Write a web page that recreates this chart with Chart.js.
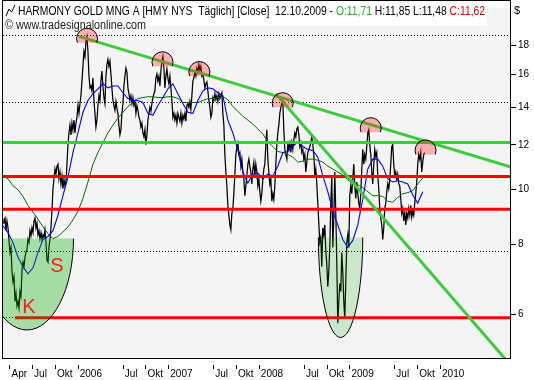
<!DOCTYPE html>
<html><head><meta charset="utf-8">
<style>html,body{margin:0;padding:0;background:#fff;}canvas{display:block;}</style>
<script src="https://cdn.jsdelivr.net/npm/chart.js@4.4.1/dist/chart.umd.min.js"></script>
</head><body>
<canvas id="c" width="534" height="380"></canvas>
<script>
// ---------- data ----------
const firstSample = 2005.175;   // decimal year of first close sample
const sampleDays = 4.03;        // spacing of close samples, days
const closes = [
8.72,8.83,8.90,8.45,8.79,8.55,8.12,7.73,7.89,7.14,
6.86,7.00,6.33,6.54,6.21,6.33,6.16,6.59,6.46,7.20,
7.43,7.29,7.58,7.73,7.83,8.15,8.05,8.45,8.28,8.55,
8.38,8.79,8.90,8.55,8.72,8.31,8.45,8.18,8.38,8.15,
8.31,8.22,8.48,8.05,7.49,7.43,7.89,8.15,8.55,9.18,
10.03,10.44,10.87,10.65,11.00,11.09,10.44,10.74,10.23,10.57,
10.03,10.44,10.15,10.31,11.09,12.01,12.60,13.01,12.50,13.12,
12.76,13.28,12.60,13.12,13.43,14.10,13.65,14.21,14.67,15.59,
16.55,17.58,17.22,18.30,18.66,17.58,15.90,15.15,15.27,14.97,
15.77,14.39,13.65,12.91,13.28,14.10,14.67,14.39,15.59,16.23,
15.27,14.56,14.21,15.90,16.68,17.02,16.55,16.89,16.03,15.15,
14.39,14.10,13.82,14.33,13.93,13.65,13.01,12.50,12.76,13.65,
14.21,15.27,15.90,16.42,16.16,15.15,14.79,14.39,14.67,14.21,
14.56,14.10,14.33,13.65,14.10,13.82,13.43,13.28,12.91,13.12,
12.60,12.40,12.76,12.01,12.50,13.28,13.65,13.99,13.76,14.21,
14.56,14.79,14.97,15.77,16.03,15.59,15.90,15.27,16.23,16.89,
17.22,16.42,15.15,15.90,16.36,15.77,15.40,15.90,15.15,14.39,
13.43,13.65,13.28,13.54,13.12,13.65,13.43,13.22,13.65,13.12,
13.54,13.33,13.65,13.22,14.10,14.21,13.99,14.33,13.88,14.67,
15.59,15.77,16.16,15.90,16.42,16.16,16.68,16.29,16.55,15.90,
16.03,15.65,15.15,15.40,15.52,14.97,14.39,13.99,13.43,13.65,
14.56,14.39,14.79,14.44,14.67,14.33,14.79,14.50,14.67,14.85,
13.65,13.01,11.54,10.74,10.15,9.37,9.00,8.65,8.48,9.07,
9.26,9.83,10.65,11.54,11.92,12.11,11.54,11.63,11.00,11.32,
10.74,10.44,9.75,10.15,10.57,11.09,11.32,11.00,10.74,10.23,
10.87,11.18,10.57,11.09,10.74,10.15,10.44,9.91,9.53,9.83,
10.44,10.87,11.09,12.01,12.76,11.32,10.74,10.23,10.44,9.53,
9.83,9.60,10.15,11.09,12.01,12.60,13.01,13.65,13.99,14.21,
14.33,12.76,11.78,11.54,11.32,12.01,11.78,12.21,11.63,12.11,
11.78,12.26,12.60,12.40,12.81,12.91,12.50,11.92,12.11,11.63,
11.78,11.32,11.54,10.74,11.18,11.63,11.78,11.92,12.11,12.40,
12.01,11.54,10.57,10.87,10.23,9.45,8.72,8.05,8.22,7.29,
8.55,8.31,8.65,7.79,7.37,6.72,7.14,7.89,9.45,10.57,
7.89,8.90,10.74,9.07,7.43,5.79,6.33,6.81,6.59,7.73,
7.14,6.33,5.89,6.86,8.05,8.31,7.89,9.75,10.15,9.83,
10.44,11.09,10.15,9.64,10.31,9.83,9.45,9.26,9.83,10.87,
11.78,11.09,11.54,11.32,11.92,12.60,12.76,12.01,11.54,10.74,
10.23,11.09,11.78,11.45,11.63,10.57,10.03,9.26,8.90,8.65,
8.15,8.55,9.26,9.45,9.91,10.23,10.03,10.40,11.09,11.92,
12.01,11.09,10.57,10.74,10.44,10.65,10.23,10.15,9.64,9.07,
9.26,8.79,9.15,8.65,9.07,8.90,9.26,9.00,9.37,8.93,
9.15,9.00,9.45,9.83,10.31,11.09,11.54,11.32,11.63,10.74,
11.18,11.54,11.62
];
const maEvery = 5; // moving averages read every 5th close sample
const fastMA = [
8.62,8.38,8.05,7.58,7.29,7.08,7.26,7.73,8.15,8.25,
8.45,9.00,9.75,10.52,11.63,12.60,13.71,14.39,14.79,15.09,
15.40,15.15,15.27,15.27,14.85,14.50,14.39,14.39,14.27,13.65,
13.54,14.10,14.56,15.09,15.40,14.79,14.21,13.71,13.65,14.39,
14.97,15.15,15.09,14.85,14.67,13.28,12.60,11.73,10.74,10.27,
10.65,10.69,10.44,10.65,10.57,11.00,11.63,11.68,11.92,12.16,
11.92,11.78,11.73,11.41,10.57,9.91,9.15,8.65,8.15,7.89,
8.12,8.65,9.60,10.87,11.32,11.32,11.00,10.44,10.31,10.36,
10.31,10.23,9.79,9.45,9.91
];
const slowMA = [
10.57,10.44,10.15,9.99,9.72,9.37,9.11,8.86,8.58,8.35,
8.18,8.25,8.41,8.58,8.83,9.15,9.64,10.31,11.09,11.63,
12.11,12.60,13.01,13.38,13.71,14.04,14.27,14.50,14.56,14.61,
14.61,14.56,14.56,14.61,14.61,14.50,14.27,14.27,14.27,14.27,
14.39,14.50,14.50,14.56,14.61,14.44,14.04,13.76,13.49,13.28,
13.06,12.81,12.55,12.16,11.92,11.68,11.63,11.54,11.41,11.18,
11.23,11.32,11.32,11.27,11.18,11.00,10.87,10.74,10.61,10.40,
10.27,10.19,10.07,9.91,9.75,9.75,9.72,9.53,9.49,9.68,
9.83,9.87,9.95,10.23,10.48
];
const xTickPos = [2005.2466,2005.4959,2005.7479,2006,2006.4959,2006.7479,2007,2007.4959,2007.7479,2008,2008.4973,2008.7486,2009,2009.4959,2009.7479,2010];
const xTickLabels = ["Apr","Jul","Okt","2006","Jul","Okt","2007","Jul","Okt","2008","Jul","Okt","2009","Jul","Okt","2010"];
const yTickValues = [6,8,10,12,14,16,18];
const gridLevels = [18.83,14.32,7.79,5.94];
const redLevels = [10.54,9.22,5.92];
const redStarts = [null,null,2005.308];
const greenLevels = [12.12];
const trendA = [[2006.014,18.70],[2010.7836,10.96]];
const trendB = [[2008.189,14.79],[2010.72,5.0]];
const peakX = [2006.103,2006.936,2007.343,2008.263,2009.235,2009.840];
const peakBase = [18.22,16.55,15.90,14.00,12.64,11.54];
const zoneX = [2005.440,2008.902];
const zoneHalfWidth = [0.5134,0.2451];
const zoneTop = [8.18,8.22];
const zoneBottom = [5.63,5.46];
const letterText = ["K","S"];
const letterX = [2005.462,2005.7715];
const letterY = [6.18,7.29];

// ---------- chart ----------
const X_MIN = 2005.175, X_MAX = 2010.7836;
const stepYears = sampleDays/365.25;
const closePts = closes.map((v,i)=>({x:firstSample+i*stepYears,y:v}));
const fastPts = fastMA.map((v,k)=>({x:firstSample+k*maEvery*stepYears,y:v}));
const slowPts = slowMA.map((v,k)=>({x:firstSample+k*maEvery*stepYears,y:v}));
const FONT = '"Liberation Sans", Arial, sans-serif';

const datasets = [];
datasets.push({data:closePts,borderColor:'#000',borderWidth:1.25,order:50});
datasets.push({data:slowPts,borderColor:'#006e00',borderWidth:1,order:45});
datasets.push({data:fastPts,borderColor:'#0000ff',borderWidth:1.1,order:40});
redLevels.forEach((v,i)=>datasets.push({data:[{x:redStarts[i]??X_MIN,y:v},{x:X_MAX,y:v}],borderColor:'#ff0000',borderWidth:3,order:20}));
greenLevels.forEach(v=>datasets.push({data:[{x:X_MIN,y:v},{x:X_MAX,y:v}],borderColor:'#3ccc3c',borderWidth:3,order:20}));
[trendA,trendB].forEach(t=>datasets.push({data:t.map(p=>({x:p[0],y:p[1]})),borderColor:'#3ccc3c',borderWidth:3,order:10}));
datasets.forEach(d=>{d.pointRadius=0;d.tension=0;d.fill=false;});

const deco = {
  id:'deco',
  beforeDraw(chart){
    const {ctx,chartArea:a}=chart;
    ctx.save();
    ctx.fillStyle='#fff';ctx.fillRect(0,0,chart.width,chart.height);
    ctx.fillStyle='#f4f4f4';ctx.fillRect(a.left,a.top,a.right-a.left,a.bottom-a.top);
    ctx.restore();
  },
  beforeDatasetsDraw(chart){
    const {ctx,chartArea:a,scales:{y}}=chart;
    ctx.save();ctx.strokeStyle='#000';ctx.lineWidth=1;ctx.setLineDash([1,2]);
    gridLevels.forEach(v=>{const py=Math.round(y.getPixelForValue(v))+0.5;ctx.beginPath();ctx.moveTo(a.left,py);ctx.lineTo(a.right,py);ctx.stroke();});
    ctx.restore();
  },
  afterDatasetsDraw(chart){
    const {ctx,chartArea:a,scales:{x,y}}=chart;
    ctx.save();
    ctx.beginPath();ctx.rect(a.left,a.top,a.right-a.left,a.bottom-a.top);ctx.clip();
    const zoneFill=['rgba(0,175,0,0.32)','rgba(0,165,0,0.17)'];
    zoneX.forEach((zx,i)=>{
      const cx=x.getPixelForValue(zx), rx=x.getPixelForValue(zx+zoneHalfWidth[i])-cx;
      const ty=y.getPixelForValue(zoneTop[i]), by=y.getPixelForValue(zoneBottom[i]);
      ctx.beginPath();ctx.ellipse(cx,ty,rx,by-ty,0,0,Math.PI);ctx.closePath();
      ctx.fillStyle=zoneFill[i];ctx.fill();
      ctx.beginPath();ctx.ellipse(cx,ty,rx,by-ty,0,0,Math.PI);
      ctx.strokeStyle='#000';ctx.lineWidth=1;ctx.stroke();
    });
    const r=10.5, lift=4, a0=Math.asin(lift/r);
    peakX.forEach((pxv,i)=>{
      const cx=x.getPixelForValue(pxv), by=y.getPixelForValue(peakBase[i]), cy=by-lift;
      ctx.beginPath();ctx.arc(cx,cy,r,Math.PI-a0,2*Math.PI+a0,false);ctx.closePath();
      ctx.fillStyle='rgba(255,30,30,0.32)';ctx.fill();
      ctx.beginPath();ctx.arc(cx,cy,r,Math.PI-a0,2*Math.PI+a0,false);
      ctx.strokeStyle='#000';ctx.lineWidth=1;ctx.stroke();
    });
    ctx.fillStyle='#ff1a1a';ctx.font='20px '+FONT;ctx.textAlign='center';ctx.textBaseline='middle';
    letterText.forEach((t,i)=>ctx.fillText(t,x.getPixelForValue(letterX[i]),y.getPixelForValue(letterY[i])));
    ctx.restore();
  },
  afterDraw(chart){
    const {ctx,chartArea:a,scales:{x}}=chart;
    ctx.save();
    ctx.fillStyle='#fff';ctx.fillRect(a.left,a.top,484,18);
    ctx.strokeStyle='#000';ctx.lineWidth=1;ctx.beginPath();
    ctx.moveTo(6,16);ctx.lineTo(9,9);ctx.lineTo(11.5,12);ctx.lineTo(15,5);ctx.stroke();
    const segs=[["HARMONY GOLD MNG A [HMY NYS  Täglich] [Close]  12.10.2009 - ","#000"],["O:11,71","#1cb01c"],[" H:11,85 L:11,48 ","#000"],["C:11,62","#e00000"]];
    ctx.font='12px '+FONT;ctx.textBaseline='alphabetic';ctx.textAlign='left';
    let tw=0;segs.forEach(s=>tw+=ctx.measureText(s[0]).width);
    const sx=467/tw;
    ctx.save();ctx.translate(18,15);ctx.scale(sx,1);
    let cx=0;segs.forEach(s=>{ctx.fillStyle=s[1];ctx.fillText(s[0],cx,0);cx+=ctx.measureText(s[0]).width;});
    ctx.restore();
    const wm="© www.tradesignalonline.com";
    ctx.font='12px '+FONT;ctx.fillStyle='#222';
    const ww=ctx.measureText(wm).width;
    ctx.save();ctx.translate(5,29);ctx.scale(141/ww,1);ctx.fillText(wm,0,0);ctx.restore();
    ctx.font='11px '+FONT;ctx.fillStyle='#000';ctx.fillText('$',514,14);
    ctx.strokeStyle='#000';ctx.lineWidth=1;ctx.strokeRect(2.5,0.5,508,358);
    xTickPos.forEach(v=>{const px=Math.round(x.getPixelForValue(v))+0.5;ctx.beginPath();ctx.moveTo(px,365);ctx.lineTo(px,369);ctx.stroke();});
    ctx.restore();
  }
};

new Chart(document.getElementById('c'),{
  type:'line',
  data:{datasets},
  options:{
    responsive:false,animation:false,devicePixelRatio:1,
    layout:{padding:{left:3,top:1,right:0,bottom:0}},
    plugins:{legend:{display:false},tooltip:{enabled:false},title:{display:false}},
    scales:{
      x:{type:'linear',min:X_MIN,max:X_MAX,
        afterBuildTicks:s=>{s.ticks=xTickPos.map(v=>({value:v}));},
        afterFit:s=>{s.height=21;},
        grid:{display:false},border:{display:false},
        ticks:{autoSkip:false,maxRotation:0,align:'start',labelOffset:2,padding:1,color:'#000',font:{family:FONT,size:10},
          callback:(v,i)=>xTickLabels[i]}},
      y:{type:'logarithmic',position:'right',min:5.0,max:21.0,
        afterBuildTicks:s=>{s.ticks=yTickValues.map(v=>({value:v}));},
        afterFit:s=>{s.width=23;},
        grid:{display:true,drawOnChartArea:false,drawTicks:true,tickLength:5,color:'#000'},
        border:{display:false},
        ticks:{autoSkip:false,padding:2,color:'#000',font:{family:FONT,size:10},callback:v=>String(v)}}
    }
  },
  plugins:[deco]
});
</script>
</body></html>
